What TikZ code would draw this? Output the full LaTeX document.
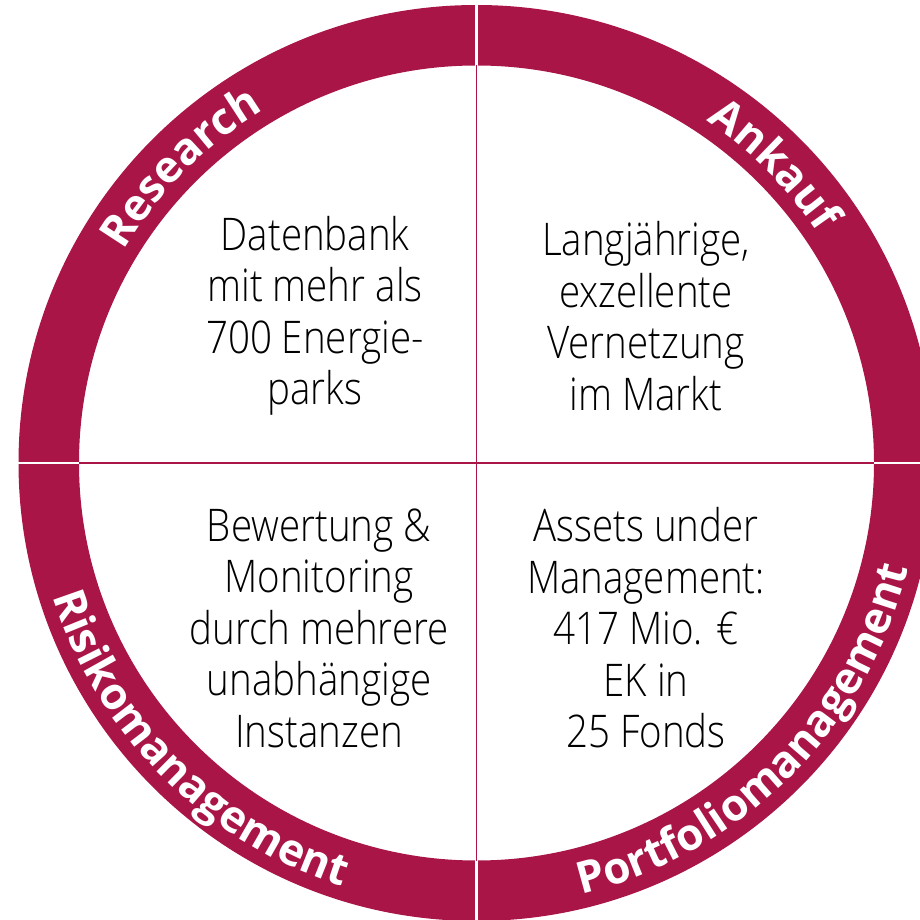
\documentclass[tikz,border=0pt]{standalone}
\usepackage{fontspec}
\IfFontExistsTF{Open Sans Light}{\setmainfont{Open Sans Light}[FakeStretch=0.855]}{\setmainfont{Open Sans}[FakeStretch=0.82]}
\newfontfamily\lblfamily{Open Sans}
\usetikzlibrary{decorations.text}
\definecolor{crim}{RGB}{170,21,71}
\newcommand\ringfont{\lblfamily\bfseries\fontsize{44}{44}\selectfont}
\newcommand\bodyfont{\fontsize{45}{51.5}\selectfont}
\tikzset{
  ringband/.style={fill=crim, even odd rule},
  gapline/.style={draw=white, line width=2.2pt},
  crossline/.style={draw=crim, line width=1.8pt},
  bodytext/.style={align=center, font=\bodyfont, inner sep=0pt, text=black},
  ringlabel/.style={decorate, decoration={text along path, text align=center, text color=white, text={#1}}}
}
\begin{document}
\begin{tikzpicture}[x=1pt,y=1pt]
\useasboundingbox (0,0) rectangle (920,919);
\clip (0,0) rectangle (920,919);
\coordinate (c) at (476.5,456);
% ring
\fill[ringband] (c) circle (458pt) (c) circle (397.5pt);
% white gaps in ring
\draw[gapline] (c) ++(0,395) -- ++(0,66);
\draw[gapline] (c) ++(0,-395) -- ++(0,-66);
\draw[gapline] (c) ++(395,0) -- ++(66,0);
\draw[gapline] (c) ++(-395,0) -- ++(-66,0);
% cross lines inside
\draw[crossline] (c) ++(0,-397.5) -- ++(0,795);
\draw[crossline] (c) ++(-397.5,0) -- ++(795,0);
% ring labels
\path[ringlabel={|\ringfont|Research}] (c) ++(170:412pt) arc[start angle=170, end angle=100, radius=412pt];
\path[ringlabel={|\ringfont|Ankauf}] (c) ++(80:412pt) arc[start angle=80, end angle=10, radius=412pt];
\path[ringlabel={|\ringfont|Risikomanagement}] (c) ++(170:444pt) arc[start angle=170, end angle=280, radius=444pt];
\path[ringlabel={|\ringfont|Portfoliomanagement}] (c) ++(260:444pt) arc[start angle=260, end angle=370, radius=444pt];
% quadrant texts
\node[bodytext] (tl) at (315,603) {Datenbank\\mit mehr als\\700 Energie-\\parks};
\node[bodytext] (tr) at (646,603) {Langjährige,\\exzellente\\Vernetzung\\im Markt};
\node[bodytext] (bl) at (319,291) {Bewertung \&\\Monitoring\\durch mehrere\\unabhängige\\Instanzen};
\node[bodytext] (br) at (646,291) {Assets under\\Management:\\417 Mio. €\\EK in\\25 Fonds};
\end{tikzpicture}
\end{document}
